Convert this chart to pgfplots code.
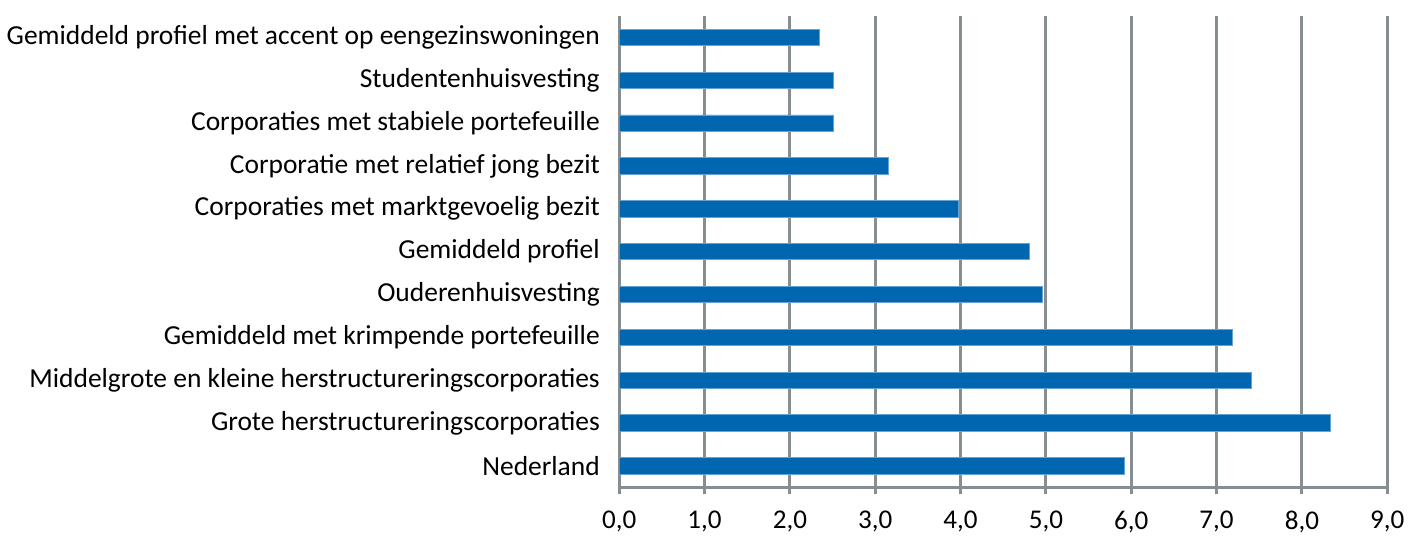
\documentclass[border=0pt]{standalone}
\usepackage{pgfplots}
\pgfplotsset{compat=1.18}
\usepackage{fontspec}
\setmainfont{Carlito}
\definecolor{barblue}{HTML}{0066B0}
\definecolor{gridgray}{HTML}{878E91}
\begin{document}
\begin{tikzpicture}
\begin{axis}[
  name=main,
  scale only axis,
  width=383pt, height=235pt,
  xbar,
  xmin=0, xmax=9,
  ymin=-0.5, ymax=10.5,
  xtick={0,1,...,9},
  ytick={0,1,...,10},
  yticklabels={Nederland,Grote herstructureringscorporaties,Middelgrote en kleine herstructureringscorporaties,Gemiddeld met krimpende portefeuille,Ouderenhuisvesting,Gemiddeld profiel,Corporaties met marktgevoelig bezit,Corporatie met relatief jong bezit,Corporaties met stabiele portefeuille,Studentenhuisvesting,Gemiddeld profiel met accent op eengezinswoningen},
  minor ytick={-0.5,0.5,...,10.5},
  xmajorgrids,
  major grid style={gridgray, line width=1.5pt},
  axis x line*=bottom,
  axis y line*=left,
  axis line style={gridgray, line width=1.5pt, -},
  every tick/.style={gridgray, line width=1.5pt},
  tick align=outside,
  major tick length=3.5pt,
  minor tick length=2.5pt,
  ytick style={draw=none},
  minor y tick style={gridgray, line width=1.5pt},
  xticklabel style={font=\fontsize{13.5}{15}\selectfont, yshift=-5pt},
  yticklabel style={font=\fontsize{13.7}{15}\selectfont, xshift=-2.7pt},
  /pgf/number format/.cd, fixed, fixed zerofill, precision=1, use comma, assume math mode=true,
  /pgfplots/bar width=0.38,
  /pgfplots/bar shift=0pt,
]
\addplot[fill=barblue, draw=barblue!60!white, line width=0.4pt] coordinates {
  (5.92,0) (8.33,1) (7.41,2) (7.18,3) (4.96,4) (4.81,5) (3.98,6) (3.16,7) (2.51,8) (2.51,9) (2.35,10)
};
\end{axis}
\path (main.north) ++(0,8pt) coordinate (topspace);
\end{tikzpicture}
\end{document}
